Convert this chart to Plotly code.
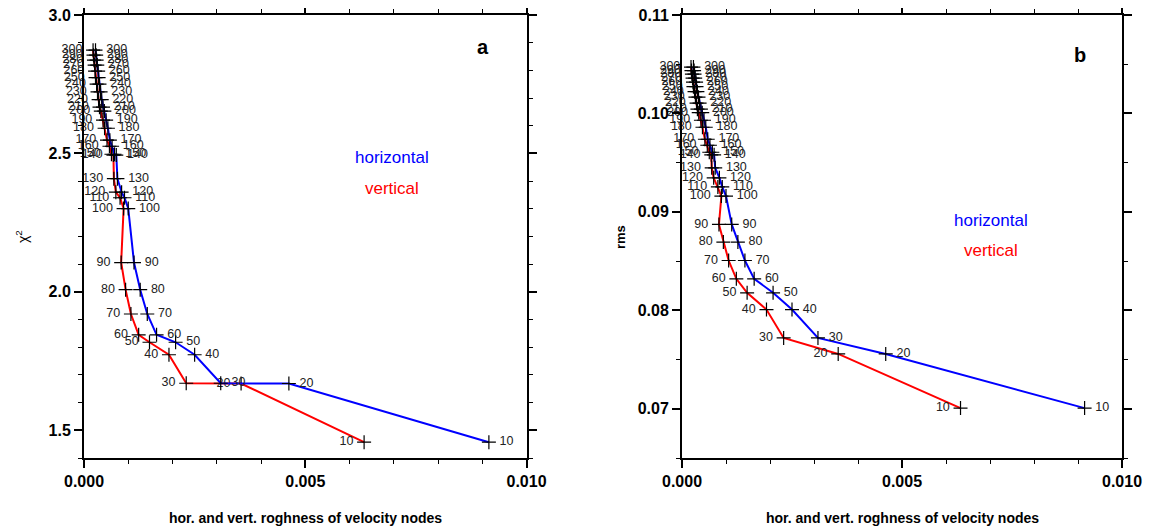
import plotly.graph_objects as go

# ---------------- data ----------------
damping = [10, 20, 30, 40, 50, 60, 70, 80, 90, 100,
           110, 120, 130, 140, 150, 160, 170, 180, 190, 200,
           210, 220, 230, 240, 250, 260, 270, 280, 290, 300]

# roughness (x 1e-3)
rough_horizontal = [9.15, 4.63, 3.09, 2.50, 2.07, 1.64, 1.43, 1.27, 1.13, 1.00,
                    0.915, 0.85, 0.755, 0.73, 0.69, 0.635, 0.585, 0.54, 0.50, 0.46,
                    0.43, 0.40, 0.375, 0.35, 0.33, 0.32, 0.30, 0.285, 0.275, 0.26]
rough_vertical = [6.33, 3.55, 2.31, 1.92, 1.48, 1.235, 1.06, 0.94, 0.84, 0.895,
                  0.815, 0.72, 0.675, 0.665, 0.62, 0.575, 0.52, 0.465, 0.43, 0.38,
                  0.35, 0.33, 0.305, 0.285, 0.26, 0.25, 0.24, 0.225, 0.215, 0.205]

chi2 = [1.457, 1.669, 1.670, 1.773, 1.818, 1.845, 1.920, 2.008, 2.106, 2.301,
        2.340, 2.360, 2.409, 2.494, 2.497, 2.526, 2.548, 2.591, 2.620, 2.653,
        2.667, 2.694, 2.722, 2.750, 2.774, 2.797, 2.819, 2.837, 2.855, 2.873]

rms = [0.07007, 0.07557, 0.07720, 0.08008, 0.08178, 0.08320, 0.08506, 0.08693, 0.08873, 0.09161,
       0.09254, 0.09346, 0.09448, 0.09580, 0.09606, 0.09677, 0.09738, 0.09860, 0.09931, 0.10008,
       0.10043, 0.10104, 0.10165, 0.10221, 0.10272, 0.10318, 0.10359, 0.10400, 0.10435, 0.10471]

labels_left = [str(d) + " " for d in damping]
labels_right = [" " + str(d) for d in damping]
xh = [v * 1e-3 for v in rough_horizontal]
xv = [v * 1e-3 for v in rough_vertical]

FONT = "Liberation Sans"
BLUE = "#0000ff"
RED = "#ff0000"

fig = go.Figure()

def add_series(x, y, color, pos, txt, xa, ya):
    fig.add_trace(go.Scatter(
        x=x, y=y, xaxis=xa, yaxis=ya,
        mode="lines+markers+text",
        line=dict(color=color, width=2),
        marker=dict(symbol="cross-thin", size=10, color="black",
                    line=dict(color="black", width=1.2)),
        text=txt, textposition=pos,
        textfont=dict(family=FONT, size=12.5, color="#222222"),
        showlegend=False, cliponaxis=False, hoverinfo="skip"))

# panel a
add_series(xv, chi2, RED, "middle left", labels_left, "x", "y")
add_series(xh, chi2, BLUE, "middle right", labels_right, "x", "y")
# panel b
add_series(xv, rms, RED, "middle left", labels_left, "x2", "y2")
add_series(xh, rms, BLUE, "middle right", labels_right, "x2", "y2")

# page has an 8px body margin; compute layout in page pixels
OFF = 8
W, H = 1154 - OFF, 532 - OFF

def px(x):
    return (x - OFF) / W

def py(y):
    return (H - (y - OFF)) / H

dom_xa = [px(84), px(526.5)]
dom_xb = [px(682), px(1122)]
dom_y = [py(458), py(15)]

tickfont = dict(family=FONT, size=16, color="black", weight="bold")

def xaxis(domain, anchor):
    return dict(domain=domain, anchor=anchor, range=[0, 0.010], automargin=False,
                tick0=0, dtick=0.005, tickformat=".3f", ticklabeloverflow="allow",
                ticks="outside", ticklen=8, tickwidth=1.5, tickcolor="black",
                showline=True, linewidth=2, linecolor="black", mirror="allticks",
                minor=dict(dtick=0.001, ticks="outside", ticklen=4, tickwidth=1.2,
                           tickcolor="black"),
                showgrid=False, zeroline=False, tickfont=tickfont)

def yaxis(anchor, rng, dtick, mdtick, fmt):
    return dict(domain=dom_y, anchor=anchor, range=rng, automargin=False,
                tick0=0, dtick=dtick, tickformat=fmt, ticklabeloverflow="allow",
                ticks="outside", ticklen=8, tickwidth=1.5, tickcolor="black",
                showline=True, linewidth=2, linecolor="black", mirror="allticks",
                minor=dict(dtick=mdtick, ticks="outside", ticklen=4, tickwidth=1.2,
                           tickcolor="black"),
                showgrid=False, zeroline=False, tickfont=tickfont)

fig.update_layout(
    template="none",
    width=W, height=H,
    margin=dict(l=0, r=0, t=0, b=0, autoexpand=False),
    paper_bgcolor="white", plot_bgcolor="white",
    xaxis=xaxis(dom_xa, "y"),
    yaxis=yaxis("x", [1.4, 3.0], 0.5, 0.1, ".1f"),
    xaxis2=xaxis(dom_xb, "y2"),
    yaxis2=yaxis("x2", [0.065, 0.11], 0.01, 0.005, ".2f"),
)

xtitle = "hor. and vert. roghness of velocity nodes"
C = dict(showarrow=False, xanchor="center", yanchor="middle")
ann = [
    dict(text="a", x=0.00901, y=2.884, xref="x", yref="y", **C,
         font=dict(family=FONT, size=20, color="black", weight="bold")),
    dict(text="horizontal", x=0.00696, y=2.486, xref="x", yref="y", **C,
         font=dict(family=FONT, size=17, color=BLUE)),
    dict(text="vertical", x=0.00696, y=2.374, xref="x", yref="y", **C,
         font=dict(family=FONT, size=17, color=RED)),
    dict(text="b", x=0.00905, y=0.10593, xref="x2", yref="y2", **C,
         font=dict(family=FONT, size=20, color="black", weight="bold")),
    dict(text="horizontal", x=0.00702, y=0.08914, xref="x2", yref="y2", **C,
         font=dict(family=FONT, size=17, color=BLUE)),
    dict(text="vertical", x=0.00702, y=0.08608, xref="x2", yref="y2", **C,
         font=dict(family=FONT, size=17, color=RED)),
    dict(text=xtitle, x=px(305), y=py(518), xref="paper", yref="paper", **C,
         font=dict(family=FONT, size=14, color="black", weight="bold")),
    dict(text=xtitle, x=px(902), y=py(518), xref="paper", yref="paper", **C,
         font=dict(family=FONT, size=14, color="black", weight="bold")),
    dict(text="χ<sup>2</sup>", x=px(22), y=py(237), xref="paper", yref="paper", **C,
         textangle=-90, font=dict(family=FONT, size=14, color="black")),
    dict(text="rms", x=px(620), y=py(237), xref="paper", yref="paper", **C,
         textangle=-90, font=dict(family=FONT, size=13, color="black", weight="bold")),
]
fig.update_layout(annotations=ann)

fig.write_html("out.html")
